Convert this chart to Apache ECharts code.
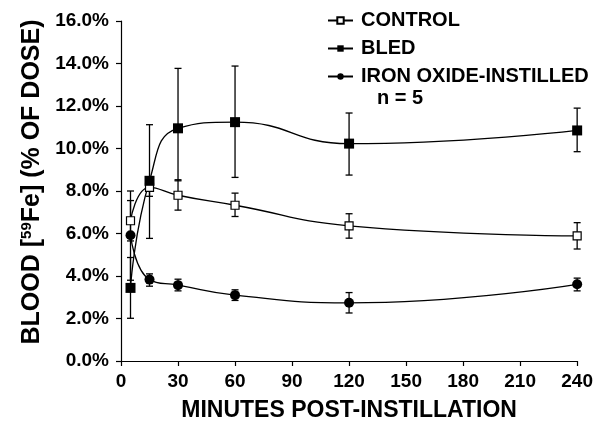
<!DOCTYPE html>
<html>
<head>
<meta charset="utf-8">
<script src="https://cdn.jsdelivr.net/npm/echarts@6/dist/echarts.min.js"></script>
<style>
html,body{margin:0;padding:0;background:#fff;}
#chart{width:596px;height:427px;}
</style>
</head>
<body>
<div id="chart"></div>
<script>
// ---- data ----
const xMinutes = [5, 15, 30, 60, 120, 240];
const xTicks = [0, 30, 60, 90, 120, 150, 180, 210, 240];
const yTicks = [0, 2, 4, 6, 8, 10, 12, 14, 16];

const controlVals = [6.6, 8.17, 7.8, 7.33, 6.36, 5.89];
const controlLow  = [5.65, 7.75, 7.1, 6.8, 5.78, 5.27];
const controlHigh = [7.55, 8.6, 8.53, 7.9, 6.93, 6.51];

const bledVals = [3.44, 8.48, 10.95, 11.24, 10.23, 10.85];
const bledLow  = [2.01, 5.77, 8.48, 8.64, 8.75, 9.85];
const bledHigh = [4.87, 11.12, 13.77, 13.88, 11.67, 11.9];

const ironVals = [5.92, 3.83, 3.57, 3.1, 2.74, 3.61];
const ironLow  = [3.8, 3.52, 3.3, 2.85, 2.26, 3.3];
const ironHigh = [8.0, 4.1, 3.85, 3.35, 3.22, 3.9];

const seriesNames = ['CONTROL', 'BLED', 'IRON OXIDE-INSTILLED'];
const noteText = 'n = 5';

// ---- build ----
const FONT = 'Liberation Sans, Arial, sans-serif';
function pts(vals) { return xMinutes.map((x, i) => [x, vals[i]]); }
function errPts(lo, hi) { return xMinutes.map((x, i) => [x, lo[i], hi[i]]); }

function errorSeries(lo, hi) {
  return {
    type: 'custom',
    silent: true,
    z: 1,
    data: errPts(lo, hi),
    encode: { x: 0, y: [1, 2] },
    renderItem: function (params, api) {
      const x = api.value(0);
      const a = api.coord([x, api.value(1)]);
      const b = api.coord([x, api.value(2)]);
      const w = 3.5;
      const st = { stroke: '#000', lineWidth: 1.3 };
      return {
        type: 'group',
        children: [
          { type: 'line', shape: { x1: a[0], y1: a[1], x2: b[0], y2: b[1] }, style: st },
          { type: 'line', shape: { x1: a[0] - w, y1: a[1], x2: a[0] + w, y2: a[1] }, style: st },
          { type: 'line', shape: { x1: b[0] - w, y1: b[1], x2: b[0] + w, y2: b[1] }, style: st }
        ]
      };
    }
  };
}

function lineSeries(name, vals, symbol, size, fill) {
  return {
    name: name,
    type: 'line',
    z: 3,
    smooth: true,
    data: pts(vals),
    symbol: symbol,
    symbolSize: size,
    showAllSymbol: true,
    lineStyle: { color: '#000', width: 1.3 },
    itemStyle: { color: fill, borderColor: '#000', borderWidth: fill === '#fff' ? 1.2 : 0 },
    emphasis: { disabled: true }
  };
}

const chart = echarts.init(document.getElementById('chart'), null, { renderer: 'canvas' });
chart.setOption({
  animation: false,
  backgroundColor: '#fff',
  grid: { left: 121, right: 17, top: 21, bottom: 62, containLabel: false },
  legend: {
    orient: 'vertical',
    left: 322,
    top: 2,
    padding: 5,
    itemWidth: 25,
    itemHeight: 8,
    itemGap: 1,
    data: seriesNames,
    selectedMode: false,
    textStyle: { fontFamily: FONT, fontWeight: 'bold', fontSize: 20, color: '#000', lineHeight: 27, padding: [0, 0, 0, 3] }
  },
  xAxis: {
    type: 'value',
    min: xTicks[0],
    max: xTicks[xTicks.length - 1],
    interval: xTicks[1] - xTicks[0],
    name: 'MINUTES POST-INSTILLATION',
    nameLocation: 'middle',
    nameGap: 38,
    nameTextStyle: { fontFamily: FONT, fontWeight: 'bold', fontSize: 23, color: '#000' },
    axisLine: { lineStyle: { color: '#000', width: 1.2 } },
    axisTick: { show: true, inside: false, length: 5, lineStyle: { color: '#000', width: 1.2 } },
    axisLabel: { margin: 11, fontFamily: FONT, fontWeight: 'bold', fontSize: 19, color: '#000' },
    splitLine: { show: false }
  },
  yAxis: {
    type: 'value',
    min: yTicks[0],
    max: yTicks[yTicks.length - 1],
    interval: yTicks[1] - yTicks[0],
    name: '{a|BLOOD [}{s|59}{a|Fe] (% OF DOSE)}',
    nameLocation: 'middle',
    nameGap: 72,
    nameTextStyle: {
      fontFamily: FONT, fontWeight: 'bold', fontSize: 25, color: '#000',
      padding: [0, 0, 0, 18],
      rich: {
        a: { fontFamily: FONT, fontWeight: 'bold', fontSize: 25, color: '#000', lineHeight: 26 },
        s: { fontFamily: FONT, fontWeight: 'bold', fontSize: 15, color: '#000', lineHeight: 26, padding: [0, 0, 10, 0] }
      }
    },
    axisLine: { show: true, lineStyle: { color: '#000', width: 1.2 } },
    axisTick: { show: true, inside: false, length: 5, lineStyle: { color: '#000', width: 1.2 } },
    axisLabel: {
      margin: 12, fontFamily: FONT, fontWeight: 'bold', fontSize: 19, color: '#000',
      formatter: v => v.toFixed(1) + '%'
    },
    splitLine: { show: false }
  },
  graphic: [
    { type: 'text', left: 377, top: 88, style: { text: noteText, fontFamily: FONT, fontWeight: 'bold', fontSize: 20, fill: '#000' } }
  ],
  series: [
    errorSeries(controlLow, controlHigh),
    errorSeries(bledLow, bledHigh),
    errorSeries(ironLow, ironHigh),
    lineSeries(seriesNames[0], controlVals, 'rect', 8, '#fff'),
    lineSeries(seriesNames[1], bledVals, 'rect', 10, '#000'),
    lineSeries(seriesNames[2], ironVals, 'circle', 10, '#000')
  ]
});
</script>
</body>
</html>
